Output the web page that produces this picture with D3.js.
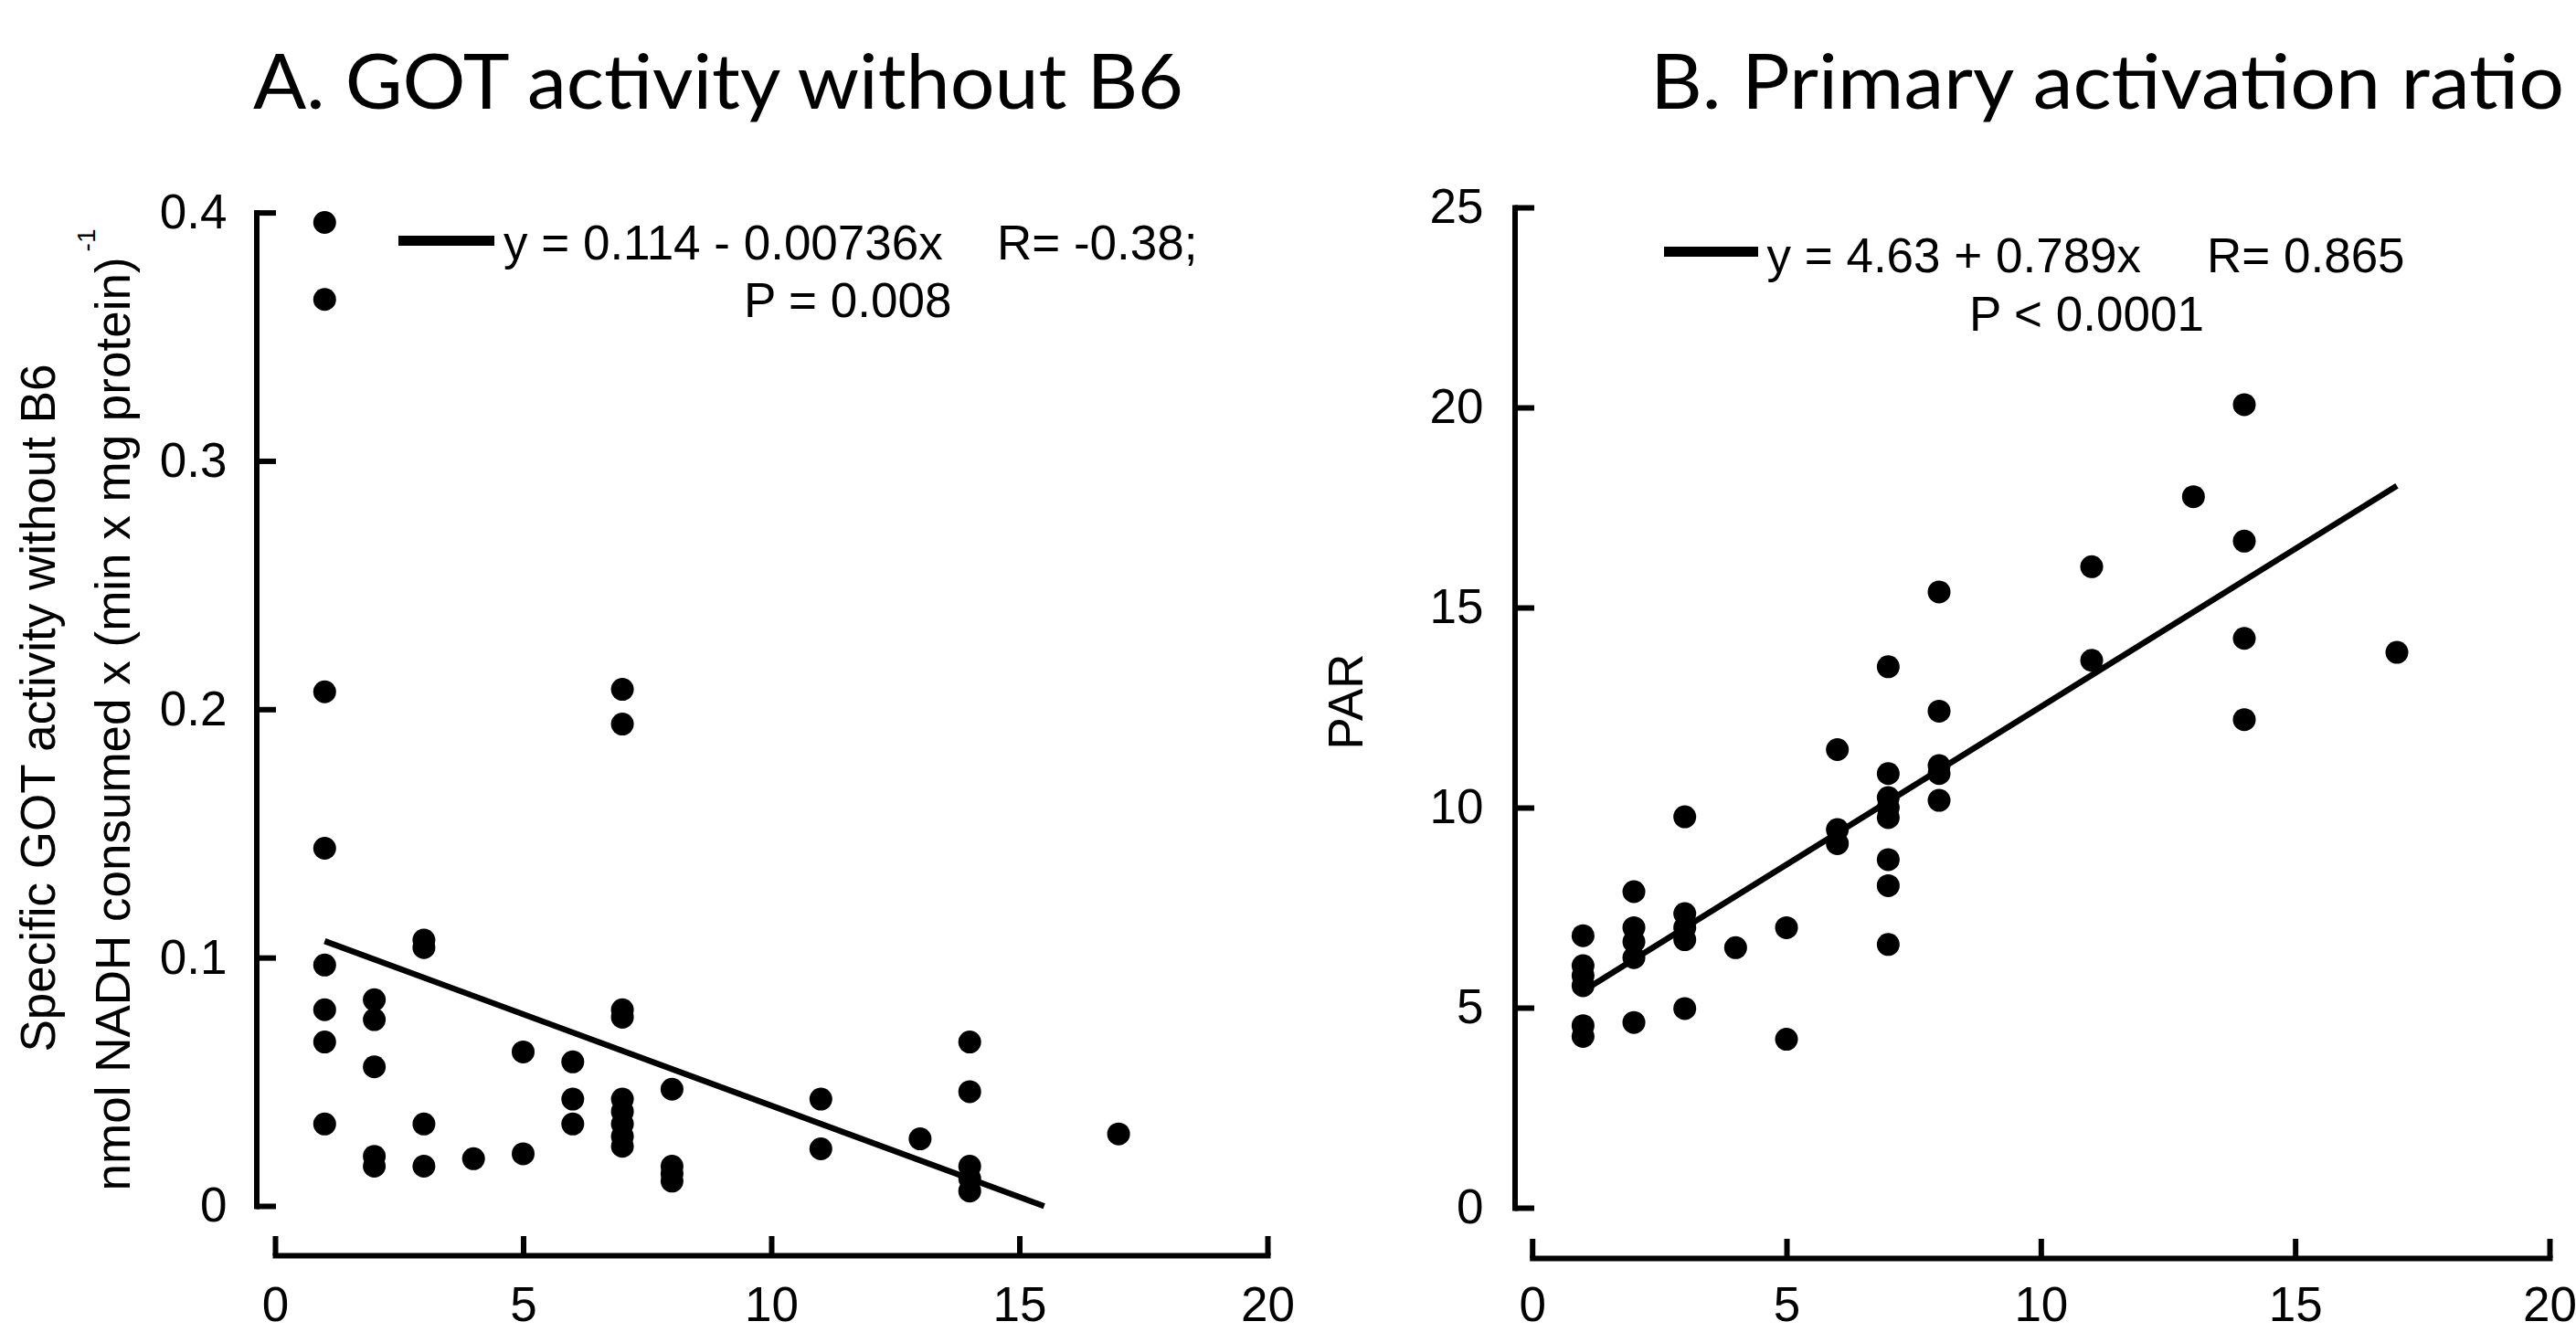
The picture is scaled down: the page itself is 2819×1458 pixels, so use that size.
<!DOCTYPE html>
<html>
<head>
<meta charset="utf-8">
<script src="https://cdn.jsdelivr.net/npm/d3@7"></script>
<style>
  html, body { margin: 0; padding: 0; background: #fff; }
  svg { display: block; }
  .tick text, .lbl { font-family: "Liberation Sans", Arial, sans-serif; fill: #000; }
  .title { font-family: Lato, "Open Sans", sans-serif; fill: #000; }
</style>
</head>
<body>
<svg id="chart" width="2819" height="1458"></svg>
<script>
// ---------- data ----------
const xTicks  = [0, 5, 10, 15, 20];
const yTicksA = [0, 0.1, 0.2, 0.3, 0.4];
const yTicksB = [0, 5, 10, 15, 20, 25];

const titleA = "A. GOT activity without B6";
const titleB = "B. Primary activation ratio";
const yLabelA1 = "Specific GOT activity without B6";
const yLabelA2 = "nmol NADH consumed x (min x mg protein)";
const yLabelA2sup = "-1";
const yLabelB = "PAR";

// Panel A: GOT activity without B6
const gotX = [1,1,1,1,1,1,1,1, 2,2,2,2,2, 3,3,3,3, 4, 5,5, 6,6,6,
              7,7,7,7,7,7,7,7,7, 8,8,8,8, 11,11, 13, 14,14,14,14,14, 17];
const gotY = [0.396,0.365,0.207,0.144,0.097,0.079,0.066,0.033,
              0.083,0.075,0.056,0.020,0.016,
              0.107,0.104,0.033,0.016,
              0.019,
              0.062,0.021,
              0.058,0.043,0.033,
              0.208,0.194,0.079,0.076,0.043,0.038,0.033,0.028,0.024,
              0.047,0.016,0.013,0.010,
              0.043,0.023,
              0.027,
              0.066,0.046,0.016,0.011,0.006,
              0.029];
// regression: intercept, slope; x-range of fitted line
const fitA = [0.114, -0.00736];
const fitARange = [1, 15.5];
const legendA1 = "y = 0.114 - 0.00736x";
const legendA2 = "R= -0.38;";
const legendA3 = "P = 0.008";

// Panel B: Primary activation ratio
const parX = [1,1,1,1,1,1, 2,2,2,2,2, 3,3,3,3,3, 4, 5,5, 6,6,6,
              7,7,7,7,7,7,7,7, 8,8,8,8,8, 11,11, 13, 14,14,14,14, 17];
const parY = [6.8,6.05,5.8,5.55,4.55,4.28,
              7.9,7.0,6.65,6.25,4.63,
              9.77,7.35,7.0,6.7,4.98,
              6.5,
              7.0,4.21,
              11.45,9.45,9.1,
              13.52,10.85,10.25,10.0,9.75,8.7,8.05,6.58,
              15.39,12.41,11.05,10.85,10.18,
              16.02,13.68,
              17.77,
              20.07,16.66,14.23,12.2,
              13.88];
const fitB = [4.63, 0.789];
const fitBRange = [1, 17];
const legendB1 = "y = 4.63 + 0.789x";
const legendB2 = "R= 0.865";
const legendB3 = "P < 0.0001";

// ---------- drawing ----------
const svg = d3.select("#chart");
const FS = 53;

function panel(cfg) {
  const g = svg.append("g");
  const x = d3.scaleLinear().domain([0, 20]).range(cfg.xRange);
  const y = d3.scaleLinear().domain(cfg.yDomain).range(cfg.yRange);

  const ya = g.append("g")
    .attr("transform", `translate(${cfg.yAxisX},0)`)
    .call(d3.axisLeft(y).tickValues(cfg.yTicks).tickSize(-21.5).tickSizeOuter(0)
      .tickPadding(cfg.yPad).tickFormat(d => String(d)));
  const xa = g.append("g")
    .attr("transform", `translate(0,${cfg.xAxisY})`)
    .call(d3.axisBottom(x).tickValues(xTicks).tickSize(-21).tickSizeOuter(0)
      .tickPadding(cfg.xPad).tickFormat(d => String(d)));
  [ya, xa].forEach(a => {
    a.select(".domain").attr("stroke", "#000").attr("stroke-width", 6).attr("stroke-linecap", "square");
    a.selectAll(".tick line").attr("stroke", "#000").attr("stroke-width", 6);
    a.selectAll(".tick text").attr("font-size", FS).attr("fill", "#000");
    a.attr("font-family", null).attr("font-size", null);
  });

  const line = d3.line().x(d => x(d)).y(d => y(cfg.fit[0] + cfg.fit[1] * d));
  g.append("path").datum(cfg.fitRange).attr("d", line)
    .attr("fill", "none").attr("stroke", "#000").attr("stroke-width", 6.5);

  g.append("g").selectAll("circle").data(cfg.xs.map((d, i) => [d, cfg.ys[i]]))
    .join("circle").attr("cx", d => x(d[0])).attr("cy", d => y(d[1])).attr("r", 12.5).attr("fill", "#000");

  const L = cfg.legend;
  g.append("line").attr("x1", L.lx1).attr("x2", L.lx2).attr("y1", L.ly).attr("y2", L.ly)
    .attr("stroke", "#000").attr("stroke-width", 11);
  g.append("text").attr("class", "lbl").attr("x", L.t1x).attr("y", L.b1).attr("font-size", FS).text(cfg.leg[0]);
  g.append("text").attr("class", "lbl").attr("x", L.t2x).attr("y", L.b1).attr("font-size", FS).text(cfg.leg[1]);
  g.append("text").attr("class", "lbl").attr("x", L.t3x).attr("y", L.b2).attr("font-size", FS).text(cfg.leg[2]);

  svg.append("text").attr("class", "title").attr("x", cfg.titleX).attr("y", 119)
    .attr("font-size", 84).attr("textLength", cfg.titleLen).attr("lengthAdjust", "spacingAndGlyphs")
    .text(cfg.title);
  return g;
}

panel({
  xRange: [301, 1387], yDomain: [0, 0.4], yRange: [1320, 232.6], yTicks: yTicksA,
  yAxisX: 280.5, xAxisY: 1374, yPad: 32, xPad: 34,
  fit: fitA, fitRange: fitARange, xs: gotX, ys: gotY,
  leg: [legendA1, legendA2, legendA3],
  legend: { lx1: 436, lx2: 541, ly: 263.5, t1x: 551, t2x: 1091, t3x: 814, b1: 284, b2: 347 },
  title: titleA, titleX: 277, titleLen: 1018
});

panel({
  xRange: [1676.7, 2790], yDomain: [0, 25], yRange: [1322, 227], yTicks: yTicksB,
  yAxisX: 1657.5, xAxisY: 1377, yPad: 34, xPad: 31,
  fit: fitB, fitRange: fitBRange, xs: parX, ys: parY,
  leg: [legendB1, legendB2, legendB3],
  legend: { lx1: 1821, lx2: 1924, ly: 275.5, t1x: 1933.5, t2x: 2415, t3x: 2155, b1: 297.5, b2: 361.5 },
  title: titleB, titleX: 1806, titleLen: 1000
});

svg.append("text").attr("class", "lbl").attr("font-size", FS).attr("text-anchor", "middle")
  .attr("transform", "translate(60,775) rotate(-90)").text(yLabelA1);
const lb = svg.append("text").attr("class", "lbl").attr("font-size", FS).attr("text-anchor", "middle")
  .attr("transform", "translate(141.5,777) rotate(-90)");
lb.append("tspan").text(yLabelA2);
lb.append("tspan").attr("font-size", 28).attr("dy", -38).attr("dx", 6).text(yLabelA2sup);

svg.append("text").attr("class", "lbl").attr("font-size", FS).attr("text-anchor", "middle")
  .attr("transform", "translate(1490.5,768) rotate(-90)").text(yLabelB);
</script>
</body>
</html>
